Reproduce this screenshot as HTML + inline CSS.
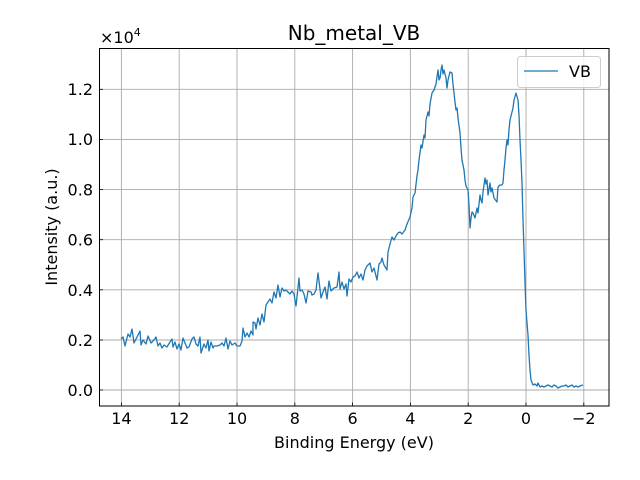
<!DOCTYPE html>
<html><head><meta charset="utf-8"><style>body{margin:0;background:#fff}svg{display:block}text{font-family:"DejaVu Sans","Liberation Sans",sans-serif;fill:#000}</style></head><body>
<svg width="640" height="480" viewBox="0 0 640 480">
<rect width="640" height="480" fill="#fff"/>
<g stroke="#aaaaaa" stroke-width="0.9">
<line x1="121.4" y1="48" x2="121.4" y2="406"/><line x1="179.2" y1="48" x2="179.2" y2="406"/><line x1="237" y1="48" x2="237" y2="406"/><line x1="294.8" y1="48" x2="294.8" y2="406"/><line x1="352.6" y1="48" x2="352.6" y2="406"/><line x1="410.4" y1="48" x2="410.4" y2="406"/><line x1="468.2" y1="48" x2="468.2" y2="406"/><line x1="526" y1="48" x2="526" y2="406"/><line x1="583.8" y1="48" x2="583.8" y2="406"/>
<line x1="99" y1="390" x2="609" y2="390"/><line x1="99" y1="340" x2="609" y2="340"/><line x1="99" y1="289.8" x2="609" y2="289.8"/><line x1="99" y1="239.7" x2="609" y2="239.7"/><line x1="99" y1="189.6" x2="609" y2="189.6"/><line x1="99" y1="139.4" x2="609" y2="139.4"/><line x1="99" y1="89.3" x2="609" y2="89.3"/>
</g>
<polyline fill="none" stroke="#1f77b4" stroke-width="1.3" stroke-linejoin="round" points="121,339 123,337 125,346 128,334 130,337 132,329 134,343 137,337 140,331 141,345 143,340 146,344 148,336 151,343 154,340 156,337 158,346 160,343 162,348 164,345 167,347 170,342 172,339 173,347 175,342 177,349 179,344 181,350 183,338 185,343 187,348 189,347 192,339 194,337 196,344 198,346 200,337 201,353 204,344 206,348 208,340 209,351 211,342 213,348 214,346 217,346 220,345 222,343 224,346 226,338 228,349 230,341 232,345 235,343 237,346 240,346 242,341 243,328 245,337 247,333 249,337 251,331 253,335 253,322 255,323 256,329 258,318 260,325 262,314 264,322 266,305 268,302 270,299 272,303 274,292 276,298 278,285 280,297 282,288 284,291 286,290 288,292 290,294 292,291 294,294 296,306 299,278 300,291 302,290 304,294 306,303 308,291 311,292 312,295 314,294 316,290 318,273 320,289 321,298 323,292 325,287 327,299 329,281 331,291 334,288 337,287 339,272 340,289 342,282 344,289 346,284 347,296 349,279 351,282 353,277 355,276 357,272 359,278 361,274 363,280 365,270 367,266 370,263 372,272 374,268 377,280 379,264 381,262 382,258 384,265 387,270 388,252 390,244 392,237 394,240 396,236 398,233 400,232 402,234 405,230 407,224 410,217 412,208 413,197 415,193 417,176 418,170 419,160 421,145 422,148 424,135 425,138 426,120 428,112 429,116 430,104 432,93 434,90 436,84 437,77 438,70 439,80 440,78 441,70 442,65 443,74 444,70 446,78 447,88 448,80 450,72 452,73 453,84 455,102 456,110 457,108 458,118 460,133 461,148 462,160 464,170 465,180 466,186 468,190 469,205 470,228 471,218 472,212 473,213 475,218 476,213 477,208 478,213 480,195 481,200 482,203 483,192 485,178 486,184 487,180 488,195 490,183 491,192 492,188 494,198 497,202 498,187 500,185 502,185 503,183 504,170 505,160 506,148 507,140 508,145 509,130 510,120 512,112 513,108 514,100 516,93 518,100 519,115 520,140 521,160 522,183 523,220 524,250 525,283 526,310 527,323 528,335 529,355 530,370 531,380 533,385 535,384 537,386 538,383 540,387 542,386 544,387 546,386 548,385 550,386 552,387 554,385 556,386 558,388 560,387 562,386 564,386 566,385 568,387 570,386 572,385 574,387 576,386 578,387 580,386 583,385"/>
<rect x="99.5" y="48.5" width="509.5" height="357.5" fill="none" stroke="#000" stroke-width="1"/>
<g stroke="#000" stroke-width="0.8">
<line x1="121.4" y1="406" x2="121.4" y2="402.5"/><line x1="179.2" y1="406" x2="179.2" y2="402.5"/><line x1="237" y1="406" x2="237" y2="402.5"/><line x1="294.8" y1="406" x2="294.8" y2="402.5"/><line x1="352.6" y1="406" x2="352.6" y2="402.5"/><line x1="410.4" y1="406" x2="410.4" y2="402.5"/><line x1="468.2" y1="406" x2="468.2" y2="402.5"/><line x1="526" y1="406" x2="526" y2="402.5"/><line x1="583.8" y1="406" x2="583.8" y2="402.5"/>
<line x1="99.5" y1="390" x2="103" y2="390"/><line x1="99.5" y1="340" x2="103" y2="340"/><line x1="99.5" y1="289.8" x2="103" y2="289.8"/><line x1="99.5" y1="239.7" x2="103" y2="239.7"/><line x1="99.5" y1="189.6" x2="103" y2="189.6"/><line x1="99.5" y1="139.4" x2="103" y2="139.4"/><line x1="99.5" y1="89.3" x2="103" y2="89.3"/>
</g>
<g font-size="16" text-anchor="middle">
<text x="121.4" y="424">14</text><text x="179.2" y="424">12</text><text x="237" y="424">10</text><text x="294.8" y="424">8</text><text x="352.6" y="424">6</text><text x="410.4" y="424">4</text><text x="468.2" y="424">2</text><text x="526" y="424">0</text><text x="583.8" y="424">−2</text>
</g>
<g font-size="16" text-anchor="end">
<text x="93" y="396">0.0</text><text x="93" y="346">0.2</text><text x="93" y="296">0.4</text><text x="93" y="245.5">0.6</text><text x="93" y="195.5">0.8</text><text x="93" y="145">1.0</text><text x="93" y="95">1.2</text>
</g>
<text x="100" y="43" font-size="16">×10<tspan font-size="11" dy="-7">4</tspan></text>
<text x="354" y="40" font-size="20" text-anchor="middle">Nb_metal_VB</text>
<text x="354" y="448" font-size="16" text-anchor="middle">Binding Energy (eV)</text>
<text transform="translate(57,227) rotate(-90)" font-size="16" text-anchor="middle">Intensity (a.u.)</text>
<rect x="517.5" y="56.5" width="83" height="31" rx="3" fill="#fff" fill-opacity="0.8" stroke="#ccc" stroke-width="1"/>
<line x1="524" y1="71" x2="558" y2="71" stroke="#1f77b4" stroke-width="1.3"/>
<text x="569" y="77" font-size="16">VB</text>
</svg>
</body></html>
